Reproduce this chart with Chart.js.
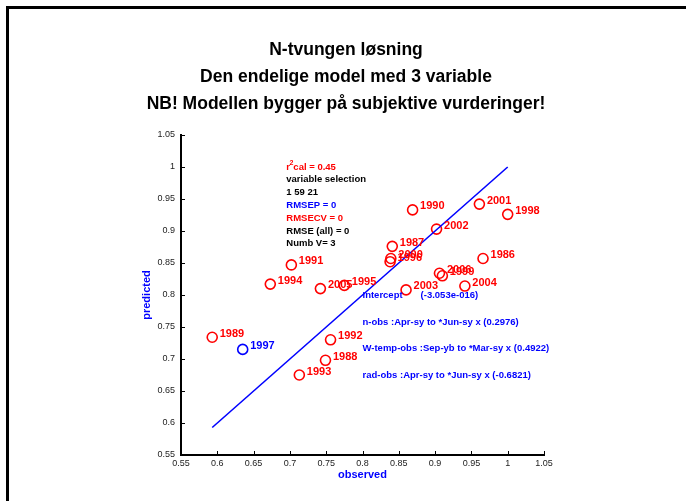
<!DOCTYPE html>
<html>
<head>
    <title>N-tvungen løsning</title>
    <script src="https://cdn.jsdelivr.net/npm/chart.js"></script> <!-- Chart.js -->
    <style>
        body { margin: 0; background: #fff; }
        #wrap { position: relative; width: 686px; height: 501px; }
        #frame { position: absolute; left: 6px; top: 6px; right: 0; bottom: 0;
                 border-top: 3px solid #000; border-left: 3px solid #000; pointer-events: none; }
    </style>
</head>
<body>
<div id="wrap">
    <canvas id="predChart" width="686" height="501"></canvas>
    <div id="frame"></div>
</div>
<script>
    // observed vs. predicted per year
    const years     = [1986, 1987, 1988, 1989, 1990, 1991, 1992, 1993, 1994, 1995, 1996,
                       1997, 1998, 1999, 2000, 2001, 2002, 2003, 2004, 2005, 2006];
    const observed  = [0.966, 0.841, 0.749, 0.593, 0.869, 0.702, 0.756, 0.713, 0.673, 0.775, 0.838,
                       0.635, 1.000, 0.910, 0.839, 0.961, 0.902, 0.860, 0.941, 0.742, 0.906];
    const predicted = [0.857, 0.876, 0.698, 0.734, 0.933, 0.847, 0.730, 0.675, 0.817, 0.815, 0.852,
                       0.715, 0.926, 0.830, 0.857, 0.942, 0.903, 0.808, 0.814, 0.810, 0.834];
    const highlightYear = 1997;

    const xTicks = [0.55, 0.6, 0.65, 0.7, 0.75, 0.8, 0.85, 0.9, 0.95, 1, 1.05];
    const yTicks = [0.55, 0.6, 0.65, 0.7, 0.75, 0.8, 0.85, 0.9, 0.95, 1, 1.05];

    const titleLines = ['N-tvungen løsning',
                        'Den endelige model med 3 variable',
                        'NB! Modellen bygger på subjektive vurderinger!'];

    // model summary block (text, colour)
    const statsText   = ['cal = 0.45', 'variable selection', '1 59 21', 'RMSEP = 0',
                         'RMSECV = 0', 'RMSE (all) = 0', 'Numb V= 3'];
    const statsColors = ['#ff0000', '#000000', '#000000', '#0000ff', '#ff0000', '#000000', '#000000'];
    const statsX = 0.695, statsY = [1.0, 0.98, 0.96, 0.94, 0.92, 0.90, 0.88];

    // regression terms
    const coefText = ['Intercept', 'n-obs :Apr-sy to *Jun-sy x (0.2976)',
                      'W-temp-obs :Sep-yb to *Mar-sy x (0.4922)', 'rad-obs :Apr-sy to *Jun-sy x (-0.6821)'];
    const interceptValue = '(-3.053e-016)';
    const coefX = 0.8, interceptX = 0.88, coefY = [0.8, 0.758, 0.716, 0.674];

    const red = '#ff0000', blue = '#0000ff';

    const points = observed.map((v, i) => ({ x: v, y: predicted[i] }));
    const pointColors = years.map(y => y === highlightYear ? blue : red);
    const lo = Math.min(...observed), hi = Math.max(...observed);

    const fmt = v => String(Number(v.toFixed(2)));

    // titles, annotations, year labels and inward ticks
    const overlay = {
        id: 'overlay',
        afterDraw(chart) {
            const ctx = chart.ctx;
            const xs = chart.scales.x, ys = chart.scales.y;
            const area = chart.chartArea;
            ctx.save();

            // inward tick marks
            ctx.strokeStyle = '#000';
            ctx.lineWidth = 1;
            ctx.beginPath();
            xTicks.forEach(v => {
                const px = Math.round(xs.getPixelForValue(v)) + 0.5;
                ctx.moveTo(px, area.bottom);
                ctx.lineTo(px, area.bottom - 4);
            });
            yTicks.forEach(v => {
                const py = Math.round(ys.getPixelForValue(v)) + 0.5;
                ctx.moveTo(area.left, py);
                ctx.lineTo(area.left + 4, py);
            });
            ctx.stroke();

            // title
            ctx.fillStyle = '#000';
            ctx.font = 'bold 17.5px Arial';
            ctx.textAlign = 'center';
            ctx.textBaseline = 'middle';
            titleLines.forEach((t, i) => ctx.fillText(t, 346, 50 + i * 27));

            // year labels
            ctx.textAlign = 'left';
            ctx.font = 'bold 11px Arial';
            chart.getDatasetMeta(1).data.forEach((pt, i) => {
                ctx.fillStyle = pointColors[i];
                ctx.fillText(String(years[i]), pt.x + 7.5, pt.y - 3.5);
            });

            // model summary
            ctx.font = 'bold 9.5px Arial';
            const sx = xs.getPixelForValue(statsX);
            statsText.forEach((t, i) => {
                const py = ys.getPixelForValue(statsY[i]);
                ctx.fillStyle = statsColors[i];
                if (i === 0) {
                    ctx.fillText('r', sx, py);
                    const rw = ctx.measureText('r').width;
                    ctx.font = 'bold 7px Arial';
                    ctx.fillText('2', sx + rw - 0.5, py - 4);
                    const tw = ctx.measureText('2').width;
                    ctx.font = 'bold 9.5px Arial';
                    ctx.fillText(t, sx + rw + tw - 0.5, py);
                } else {
                    ctx.fillText(t, sx, py);
                }
            });

            // regression terms
            ctx.fillStyle = blue;
            coefText.forEach((t, i) => {
                ctx.fillText(t, xs.getPixelForValue(coefX), ys.getPixelForValue(coefY[i]));
            });
            ctx.fillText(interceptValue, xs.getPixelForValue(interceptX), ys.getPixelForValue(coefY[0]));

            ctx.restore();
        }
    };

    const ctx = document.getElementById('predChart').getContext('2d');
    const predChart = new Chart(ctx, {
        type: 'scatter',
        data: {
            datasets: [{
                type: 'line',
                data: [{ x: lo, y: lo }, { x: hi, y: hi }],
                borderColor: blue,
                borderWidth: 1.6,
                pointRadius: 0,
                fill: false
            }, {
                data: points,
                pointStyle: 'circle',
                pointRadius: 5,
                pointBorderWidth: 1.6,
                pointBackgroundColor: 'rgba(0,0,0,0)',
                pointBorderColor: pointColors
            }]
        },
        options: {
            responsive: false,
            animation: false,
            events: [],
            layout: { padding: { top: 135, right: 142, bottom: 0, left: 0 } },
            plugins: { legend: { display: false }, tooltip: { enabled: false } },
            scales: {
                x: {
                    type: 'linear',
                    min: 0.55, max: 1.05,
                    afterBuildTicks: s => { s.ticks = xTicks.map(v => ({ value: v })); },
                    afterFit: s => { s.height = 46; },
                    grid: { display: false, drawTicks: false, tickLength: 0 },
                    border: { display: true, color: '#000', width: 2 },
                    ticks: { color: '#222', font: { family: 'Arial', size: 9 }, padding: 3,
                             maxRotation: 0, autoSkip: false, callback: v => fmt(v) },
                    title: { display: true, text: 'observed', color: blue,
                             font: { family: 'Arial', size: 11, weight: 'bold' },
                             padding: { top: 0, bottom: 19 } }
                },
                y: {
                    type: 'linear',
                    min: 0.55, max: 1.05,
                    afterBuildTicks: s => { s.ticks = yTicks.map(v => ({ value: v })); },
                    afterFit: s => { s.width = 181; },
                    grid: { display: false, drawTicks: false, tickLength: 0 },
                    border: { display: true, color: '#000', width: 2 },
                    ticks: { color: '#222', font: { family: 'Arial', size: 9 }, padding: 6,
                             autoSkip: false, callback: v => fmt(v) },
                    title: { display: true, text: 'predicted', color: blue,
                             font: { family: 'Arial', size: 11, weight: 'bold' },
                             padding: { top: 140, bottom: 0 } }
                }
            }
        },
        plugins: [overlay]
    });
</script>
</body>
</html>
